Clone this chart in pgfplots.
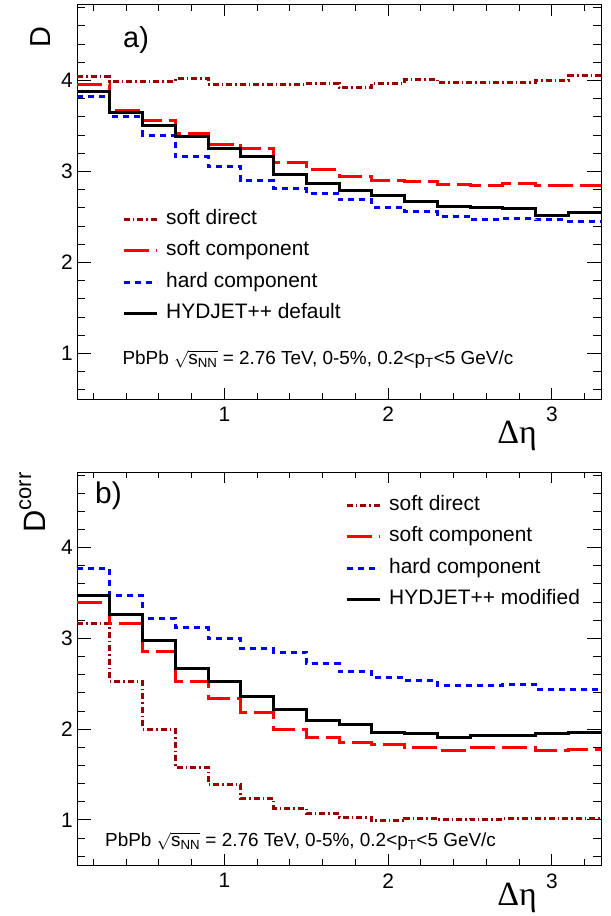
\documentclass[border=0pt]{standalone}
\usepackage{pgfplots}
\pgfplotsset{compat=1.18}
\usepackage{pgfplotstable}
\usepackage{amsmath}
\usepackage{fontspec}
\setmainfont{Liberation Sans}
\newfontfamily\serif{Liberation Serif}
\definecolor{darkred}{RGB}{153,0,0}

% bin left edges (width 0.2), last row closes the histogram at 3.3
\pgfplotstableread{
x   sd   sc   hd   def
0.1 4.04 3.96 3.82 3.88
0.3 3.99 3.67 3.60 3.65
0.5 3.99 3.56 3.40 3.51
0.7 4.02 3.42 3.16 3.38
0.9 3.96 3.30 3.05 3.25
1.1 3.96 3.25 2.90 3.16
1.3 3.96 3.10 2.81 2.97
1.5 3.97 3.02 2.76 2.87
1.7 3.92 2.95 2.69 2.79
1.9 3.97 2.90 2.61 2.74
2.1 4.01 2.89 2.56 2.67
2.3 3.98 2.86 2.51 2.62
2.5 3.98 2.85 2.47 2.60
2.7 3.98 2.87 2.48 2.59
2.9 4.00 2.85 2.47 2.52
3.1 4.05 2.85 2.45 2.55
3.3 4.05 2.85 2.45 2.55
}\tabA

\pgfplotstableread{
x   sd   sc   hd   def
0.1 3.16 3.40 3.77 3.47
0.3 2.53 3.16 3.47 3.26
0.5 2.00 2.86 3.22 2.98
0.7 1.58 2.53 3.12 2.67
0.9 1.39 2.34 3.00 2.53
1.1 1.24 2.18 2.89 2.36
1.3 1.13 2.00 2.85 2.22
1.5 1.07 1.91 2.72 2.09
1.7 1.03 1.85 2.64 2.05
1.9 0.99 1.83 2.57 1.96
2.1 1.02 1.80 2.54 1.95
2.3 1.00 1.77 2.48 1.91
2.5 1.01 1.80 2.48 1.93
2.7 1.02 1.80 2.49 1.93
2.9 1.02 1.77 2.44 1.95
3.1 1.02 1.78 2.44 1.96
3.3 1.02 1.78 2.44 1.96
}\tabB

\pgfplotsset{
  panel/.style={
    scale only axis, width=524bp, height=394bp,
    xmin=0.1, xmax=3.3, ymin=0.5, ymax=4.83,
    xtick={1,2,3}, ytick={1,2,3,4},
    minor xtick={0.2,0.4,...,3.2}, minor ytick={0.6,0.8,...,4.8},
    major tick length=14bp, minor tick length=8bp,
    xtick style={/pgfplots/major tick length=11bp,/pgfplots/minor tick length=6bp},
    axis line style={line width=1bp},
    tick style={line width=1bp, black},
    tick label style={font=\fontsize{21}{21}\selectfont, inner sep=0pt},
    /pgf/number format/assume math mode=true,
    yticklabel style={xshift=-4bp},
    xticklabel style={yshift=-8bp},
    xlabel={\serif Δη},
    legend style={draw=none, fill=none, font=\fontsize{21}{21}\selectfont,
      inner sep=0pt, row sep=11.5bp, column sep=8bp,
      nodes={inner sep=0pt, text height=15bp, text depth=5bp}},
    legend cell align=left,
    legend image code/.code={\draw[##1] (0bp,0bp) -- (33bp,0bp);},
    const plot, no marks,
  },
  sdst/.style={darkred, line width=3bp, dash pattern=on 6bp off 3bp on 1.5bp off 3bp},
  scst/.style={red, line width=3bp, dash pattern=on 25bp off 7bp},
  hdst/.style={blue, line width=3bp, dash pattern=on 6bp off 5bp},
  defst/.style={black, line width=3bp},
}

\begin{document}
\begin{tikzpicture}
\useasboundingbox (0,0) rectangle (611bp,-916bp);

\begin{axis}[panel, at={(77bp,-399bp)}, anchor=south west,
  ylabel={D},
  ylabel style={at={(axis description cs:-0.0515,0.945)}, anchor=base east,
    font=\fontsize{29}{29}\selectfont, inner sep=0pt},
  xlabel style={at={(axis description cs:0.84,-0.112)}, anchor=base,
    font=\fontsize{34}{34}\selectfont, inner sep=0pt},
  legend style={at={(axis description cs:0.0859,0.482)}, anchor=north west},
]
\addplot[sdst] table[x=x, y=sd] {\tabA};
\addlegendentry{soft direct}
\addplot[scst] table[x=x, y=sc] {\tabA};
\addlegendentry{soft component}
\addplot[hdst] table[x=x, y=hd] {\tabA};
\addlegendentry{hard component}
\addplot[defst] table[x=x, y=def] {\tabA};
\addlegendentry{HYDJET++ default}
\node[anchor=base west, inner sep=0pt, font=\fontsize{29}{29}\selectfont]
  at (rel axis cs:0.0878,0.8926) {a)};
\node[anchor=base west, inner sep=0pt, font=\fontsize{19}{19}\selectfont]
  at (rel axis cs:0.0865,0.0888)
  {PbPb $\sqrt{\text{s}_{\text{NN}}}$ = 2.76 TeV, 0-5\%, 0.2<p$_{\text{T}}$<5 GeV/c};
\end{axis}

\begin{axis}[panel, height=393bp, at={(77bp,-865.3bp)}, anchor=south west,
  ylabel={D\raisebox{14bp}{\fontsize{22}{22}\selectfont corr}},
  ylabel style={at={(axis description cs:-0.061,1.0)}, anchor=base east,
    font=\fontsize{31}{31}\selectfont, inner sep=0pt},
  xlabel style={at={(axis description cs:0.84,-0.101)}, anchor=base,
    font=\fontsize{34}{34}\selectfont, inner sep=0pt},
  legend style={at={(axis description cs:0.5115,0.942)}, anchor=north west},
]
\addplot[sdst] table[x=x, y=sd] {\tabB};
\addlegendentry{soft direct}
\addplot[scst] table[x=x, y=sc] {\tabB};
\addlegendentry{soft component}
\addplot[hdst] table[x=x, y=hd] {\tabB};
\addlegendentry{hard component}
\addplot[defst] table[x=x, y=def] {\tabB};
\addlegendentry{HYDJET++ modified}
\node[anchor=base west, inner sep=0pt, font=\fontsize{30}{30}\selectfont]
  at (rel axis cs:0.0344,0.921) {b)};
\node[anchor=base west, inner sep=0pt, font=\fontsize{19}{19}\selectfont]
  at (rel axis cs:0.0534,0.049)
  {PbPb $\sqrt{\text{s}_{\text{NN}}}$ = 2.76 TeV, 0-5\%, 0.2<p$_{\text{T}}$<5 GeV/c};
\end{axis}
\end{tikzpicture}
\end{document}
